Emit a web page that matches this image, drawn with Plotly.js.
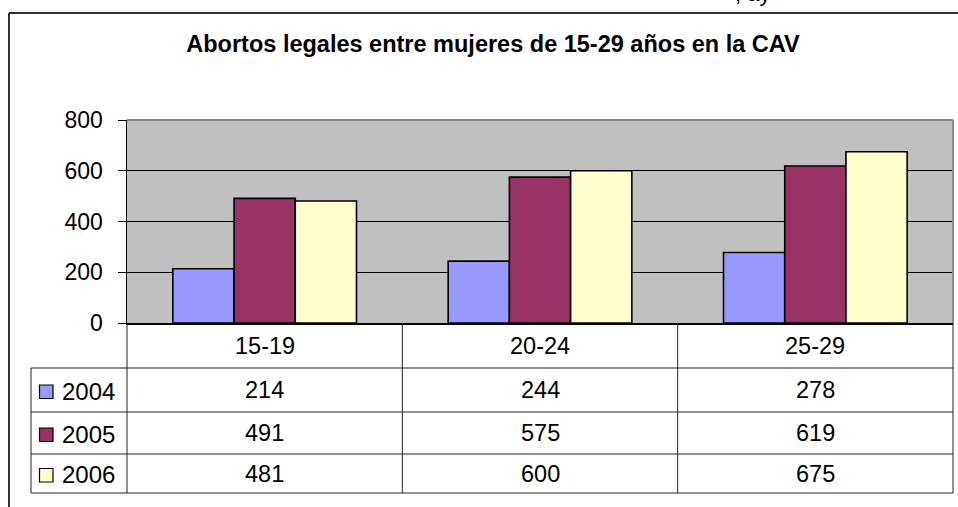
<!DOCTYPE html>
<html>
<head>
<meta charset="utf-8">
<script src="https://cdn.plot.ly/plotly-3.0.1.min.js"></script>
<style>html,body{margin:0;padding:0;background:#fff}#chart{width:958px;height:507px}</style>
</head>
<body>
<div id="chart"></div>
<script>
var categories = ['15-19', '20-24', '25-29'];
var seriesNames = ['2004', '2005', '2006'];
var values2004 = [214, 244, 278];
var values2005 = [491, 575, 619];
var values2006 = [481, 600, 675];
var seriesColors = ['#9999FF', '#993366', '#FFFFCC'];
var yTickVals = [0, 200, 400, 600, 800];
var titleText = 'Abortos legales entre mujeres de 15-29 años en la CAV';

var W = 958, H = 507;
function px(x) { return x / W; }
function py(y) { return 1 - y / H; }
var FONT = 'Arial, "Liberation Sans", sans-serif';

var seriesValues = [values2004, values2005, values2006];
var traces = seriesValues.map(function (vals, i) {
  return {
    type: 'bar', name: seriesNames[i], x: categories, y: vals,
    marker: { color: seriesColors[i], line: { color: '#000', width: 1.6 } },
    hoverinfo: 'x+y+name'
  };
});

// geometry (pixels)
var plotL = 127, plotR = 953, plotT = 120, plotB = 323;
var legL = 31;
var rowLines = [368, 412, 454, 493];
var headerMid = (plotB + rowLines[0]) / 2;

var shapes = [];
var annotations = [];
function hline(y, x0, x1, color, w) {
  shapes.push({ type: 'line', xref: 'paper', yref: 'paper', x0: px(x0), x1: px(x1), y0: py(y), y1: py(y), line: { color: color, width: w } });
}
function vline(x, y0, y1, color, w) {
  shapes.push({ type: 'line', xref: 'paper', yref: 'paper', x0: px(x), x1: px(x), y0: py(y0), y1: py(y1), line: { color: color, width: w } });
}
// outer frame
hline(13, 9, 958, '#333', 2);
vline(9, 13, 507, '#333', 2);
// plot area gray border top and right
hline(plotT, plotL, plotR, '#888', 2);
vline(plotR, plotT, plotB, '#888', 2);

// table lines
rowLines.forEach(function (y) { hline(y, legL, plotR, '#222', 1); });
vline(plotL, plotB, rowLines[3], '#222', 1);
vline(plotR, plotB, rowLines[3], '#222', 1);
vline(legL, rowLines[0], rowLines[3], '#222', 1);
for (var k = 0; k < categories.length - 1; k++) {
  shapes.push({ type: 'line', xref: 'x', yref: 'paper', x0: k + 0.5, x1: k + 0.5, y0: py(plotB), y1: py(rowLines[3]), line: { color: '#222', width: 1 } });
}

// header category labels
categories.forEach(function (c, j) {
  annotations.push({ xref: 'x', yref: 'paper', x: j, y: py(headerMid), text: c, showarrow: false, xanchor: 'center', yanchor: 'middle', font: { family: FONT, size: 23.5, color: '#000' } });
});
// data rows
seriesValues.forEach(function (vals, i) {
  var yc = (rowLines[i] + rowLines[i + 1]) / 2;
  vals.forEach(function (v, j) {
    annotations.push({ xref: 'x', yref: 'paper', x: j, y: py(yc), text: String(v), showarrow: false, xanchor: 'center', yanchor: 'middle', font: { family: FONT, size: 23.5, color: '#000' } });
  });
  // legend key
  shapes.push({ type: 'rect', xref: 'paper', yref: 'paper', x0: px(39.5), x1: px(53), y0: py(yc - 5), y1: py(yc + 8.5), fillcolor: seriesColors[i], line: { color: '#000', width: 1.2 } });
  annotations.push({ xref: 'paper', yref: 'paper', x: px(60), y: py(yc + 1), text: seriesNames[i], showarrow: false, xanchor: 'left', yanchor: 'middle', font: { family: FONT, size: 24, color: '#000' } });
});

// clipped text at the very top (as in the reference, only its lower part shows)
annotations.push({ xref: 'paper', yref: 'paper', x: px(733), y: py(-6), text: ', ay', showarrow: false, xanchor: 'left', yanchor: 'middle', font: { family: FONT, size: 22, color: '#000' } });

var layout = {
  width: W, height: H,
  margin: { l: 0, r: 0, t: 0, b: 0 },
  paper_bgcolor: '#fff',
  plot_bgcolor: '#C0C0C0',
  showlegend: false,
  barmode: 'group',
  bargap: 0.333,
  bargroupgap: 0,
  title: { text: '<b>' + titleText + '</b>', x: px(493), xanchor: 'center', xref: 'paper', y: py(44), yref: 'paper', yanchor: 'middle', font: { family: FONT, size: 23.5, color: '#000' } },
  xaxis: {
    type: 'category', categoryarray: categories, range: [-0.5, 2.5],
    domain: [px(plotL), px(plotR)], showticklabels: false, ticks: '',
    showgrid: false, zeroline: false, showline: true, linecolor: '#000', linewidth: 1.5, fixedrange: true
  },
  yaxis: {
    range: [0, 800], domain: [py(plotB), py(plotT)], tickvals: yTickVals,
    ticks: 'outside', ticklen: 8, tickcolor: '#000', tickwidth: 1,
    ticklabelstandoff: 10,
    tickfont: { family: FONT, size: 23, color: '#000' },
    showgrid: true, gridcolor: '#000', gridwidth: 1,
    zeroline: false, showline: true, linecolor: '#000', linewidth: 1.5, fixedrange: true
  },
  shapes: shapes,
  annotations: annotations
};

Plotly.newPlot('chart', traces, layout, { displayModeBar: false, staticPlot: true });
</script>
</body>
</html>
